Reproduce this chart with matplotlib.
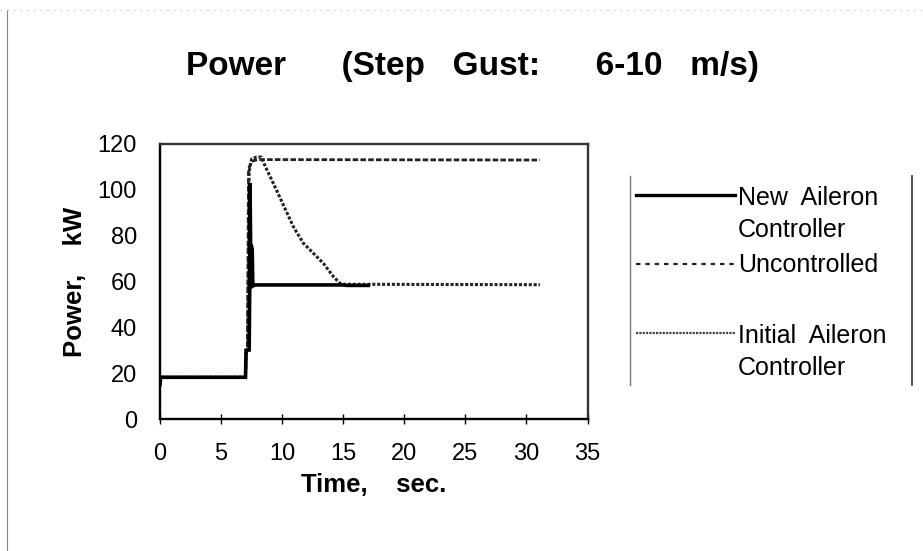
import matplotlib
matplotlib.use("Agg")
import matplotlib.pyplot as plt
from matplotlib.lines import Line2D

plt.rcParams['font.family'] = ['Liberation Sans', 'DejaVu Sans']

# ---- data ----
t_new = [0.0, 0.05, 0.1, 7.0, 7.05, 7.3, 7.35, 7.37, 7.42, 7.5, 7.55, 7.6, 7.78, 15.0, 15.3, 17.06]
p_new = [15.0, 18.0, 18.2, 18.2, 30.0, 30.1, 60.0, 103.0, 75.0, 75.2, 74.0, 58.0, 58.5, 58.5, 58.3, 58.3]

t_unc = [0.0, 7.0, 7.05, 7.15, 7.25, 7.5, 8.0, 31.1]
p_unc = [18.2, 18.2, 30.0, 30.1, 109.0, 112.5, 113.2, 113.0]

t_init = [0.0, 7.0, 7.05, 7.2, 7.3, 7.5, 7.9, 8.3, 8.5, 9.28, 10.1, 10.92, 11.74, 12.56,
          13.38, 14.2, 14.74, 15.0, 31.1]
p_init = [18.2, 18.2, 30.0, 30.1, 108.0, 113.5, 114.3, 114.3, 111.6, 102.8, 93.4, 83.9, 76.7,
          72.3, 67.9, 62.1, 59.2, 58.8, 58.6]

x_ticks = [0, 5, 10, 15, 20, 25, 30, 35]
y_ticks = [0, 20, 40, 60, 80, 100, 120]

title = "Power      (Step   Gust:      6-10   m/s)"
xlabel = "Time,    sec."
ylabel = "Power,    kW"
labels = ["New  Aileron\nController", "Uncontrolled", "Initial  Aileron\nController"]

W, H = 923, 551
fig = plt.figure(figsize=(W / 100, H / 100), dpi=100)
ax = fig.add_axes([160 / W, 1 - 419 / H, 427.5 / W, 275 / H])

ax.plot(t_init, p_init, color='#222222', lw=2.2, linestyle=(0, (1, 0.6)))
ax.plot(t_unc, p_unc, color='#222222', lw=2.0, linestyle=(0, (2, 0.8)))
ax.plot(t_new, p_new, color='black', lw=2.6, solid_joinstyle='miter')

ax.set_xlim(0, 35)
ax.set_ylim(0, 120)
ax.set_xticks(x_ticks)
ax.set_yticks(y_ticks)
ax.tick_params(axis='x', direction='inout', length=7, width=1, pad=13.5, labelsize=17)
ax.tick_params(axis='y', length=0, pad=16.5, labelsize=17)
for s in ax.spines.values():
    s.set_linewidth(1.7)
    s.set_color('black')
ax.spines['top'].set_color('#333333')
ax.spines['right'].set_color('#333333')

ax.set_xlabel(xlabel, fontsize=18.5, fontweight='bold', labelpad=6)
ax.set_ylabel(ylabel, fontsize=18.5, fontweight='bold', labelpad=8)

fig.text(472 / W, 1 - 66 / H, title, ha='center', va='center', fontsize=24, fontweight='bold')

# ---- legend (drawn by hand to keep the original's layout) ----
def fx(px):
    return px / W

def fy(py):
    return 1 - py / H

leg_styles = [dict(color='black', lw=2.4),
              dict(color='#222222', lw=1.6, linestyle=(0, (2, 2.2))),
              dict(color='#444444', lw=1.6, linestyle=(0, (1, 0.5)))]
leg_line_y = [195, 264, 333]
for st, ly, lab in zip(leg_styles, leg_line_y, labels):
    fig.add_artist(Line2D([fx(636), fx(735)], [fy(ly), fy(ly)], transform=fig.transFigure, **st))
    two = '\n' in lab
    ty = ly - 9 if two else ly + 1
    fig.text(fx(738), fy(ty), lab, ha='left', va='top' if two else 'center',
             fontsize=18, linespacing=1.4, transform=fig.transFigure)

fig.add_artist(Line2D([fx(630), fx(630)], [fy(176), fy(385)], transform=fig.transFigure,
                      color='#777777', lw=1.0))
fig.add_artist(Line2D([fx(911.5), fx(911.5)], [fy(176), fy(385)], transform=fig.transFigure,
                      color='#333333', lw=1.2))

# scan-border artifacts
fig.add_artist(Line2D([fx(7), fx(7)], [0.0, fy(10)], transform=fig.transFigure,
                      color='#888888', lw=0.8))
fig.add_artist(Line2D([0.0, 1.0], [fy(10), fy(10)], transform=fig.transFigure,
                      color='#bbbbbb', lw=0.6, linestyle=(0, (2, 6))))

fig.savefig("out.png", dpi=100)
